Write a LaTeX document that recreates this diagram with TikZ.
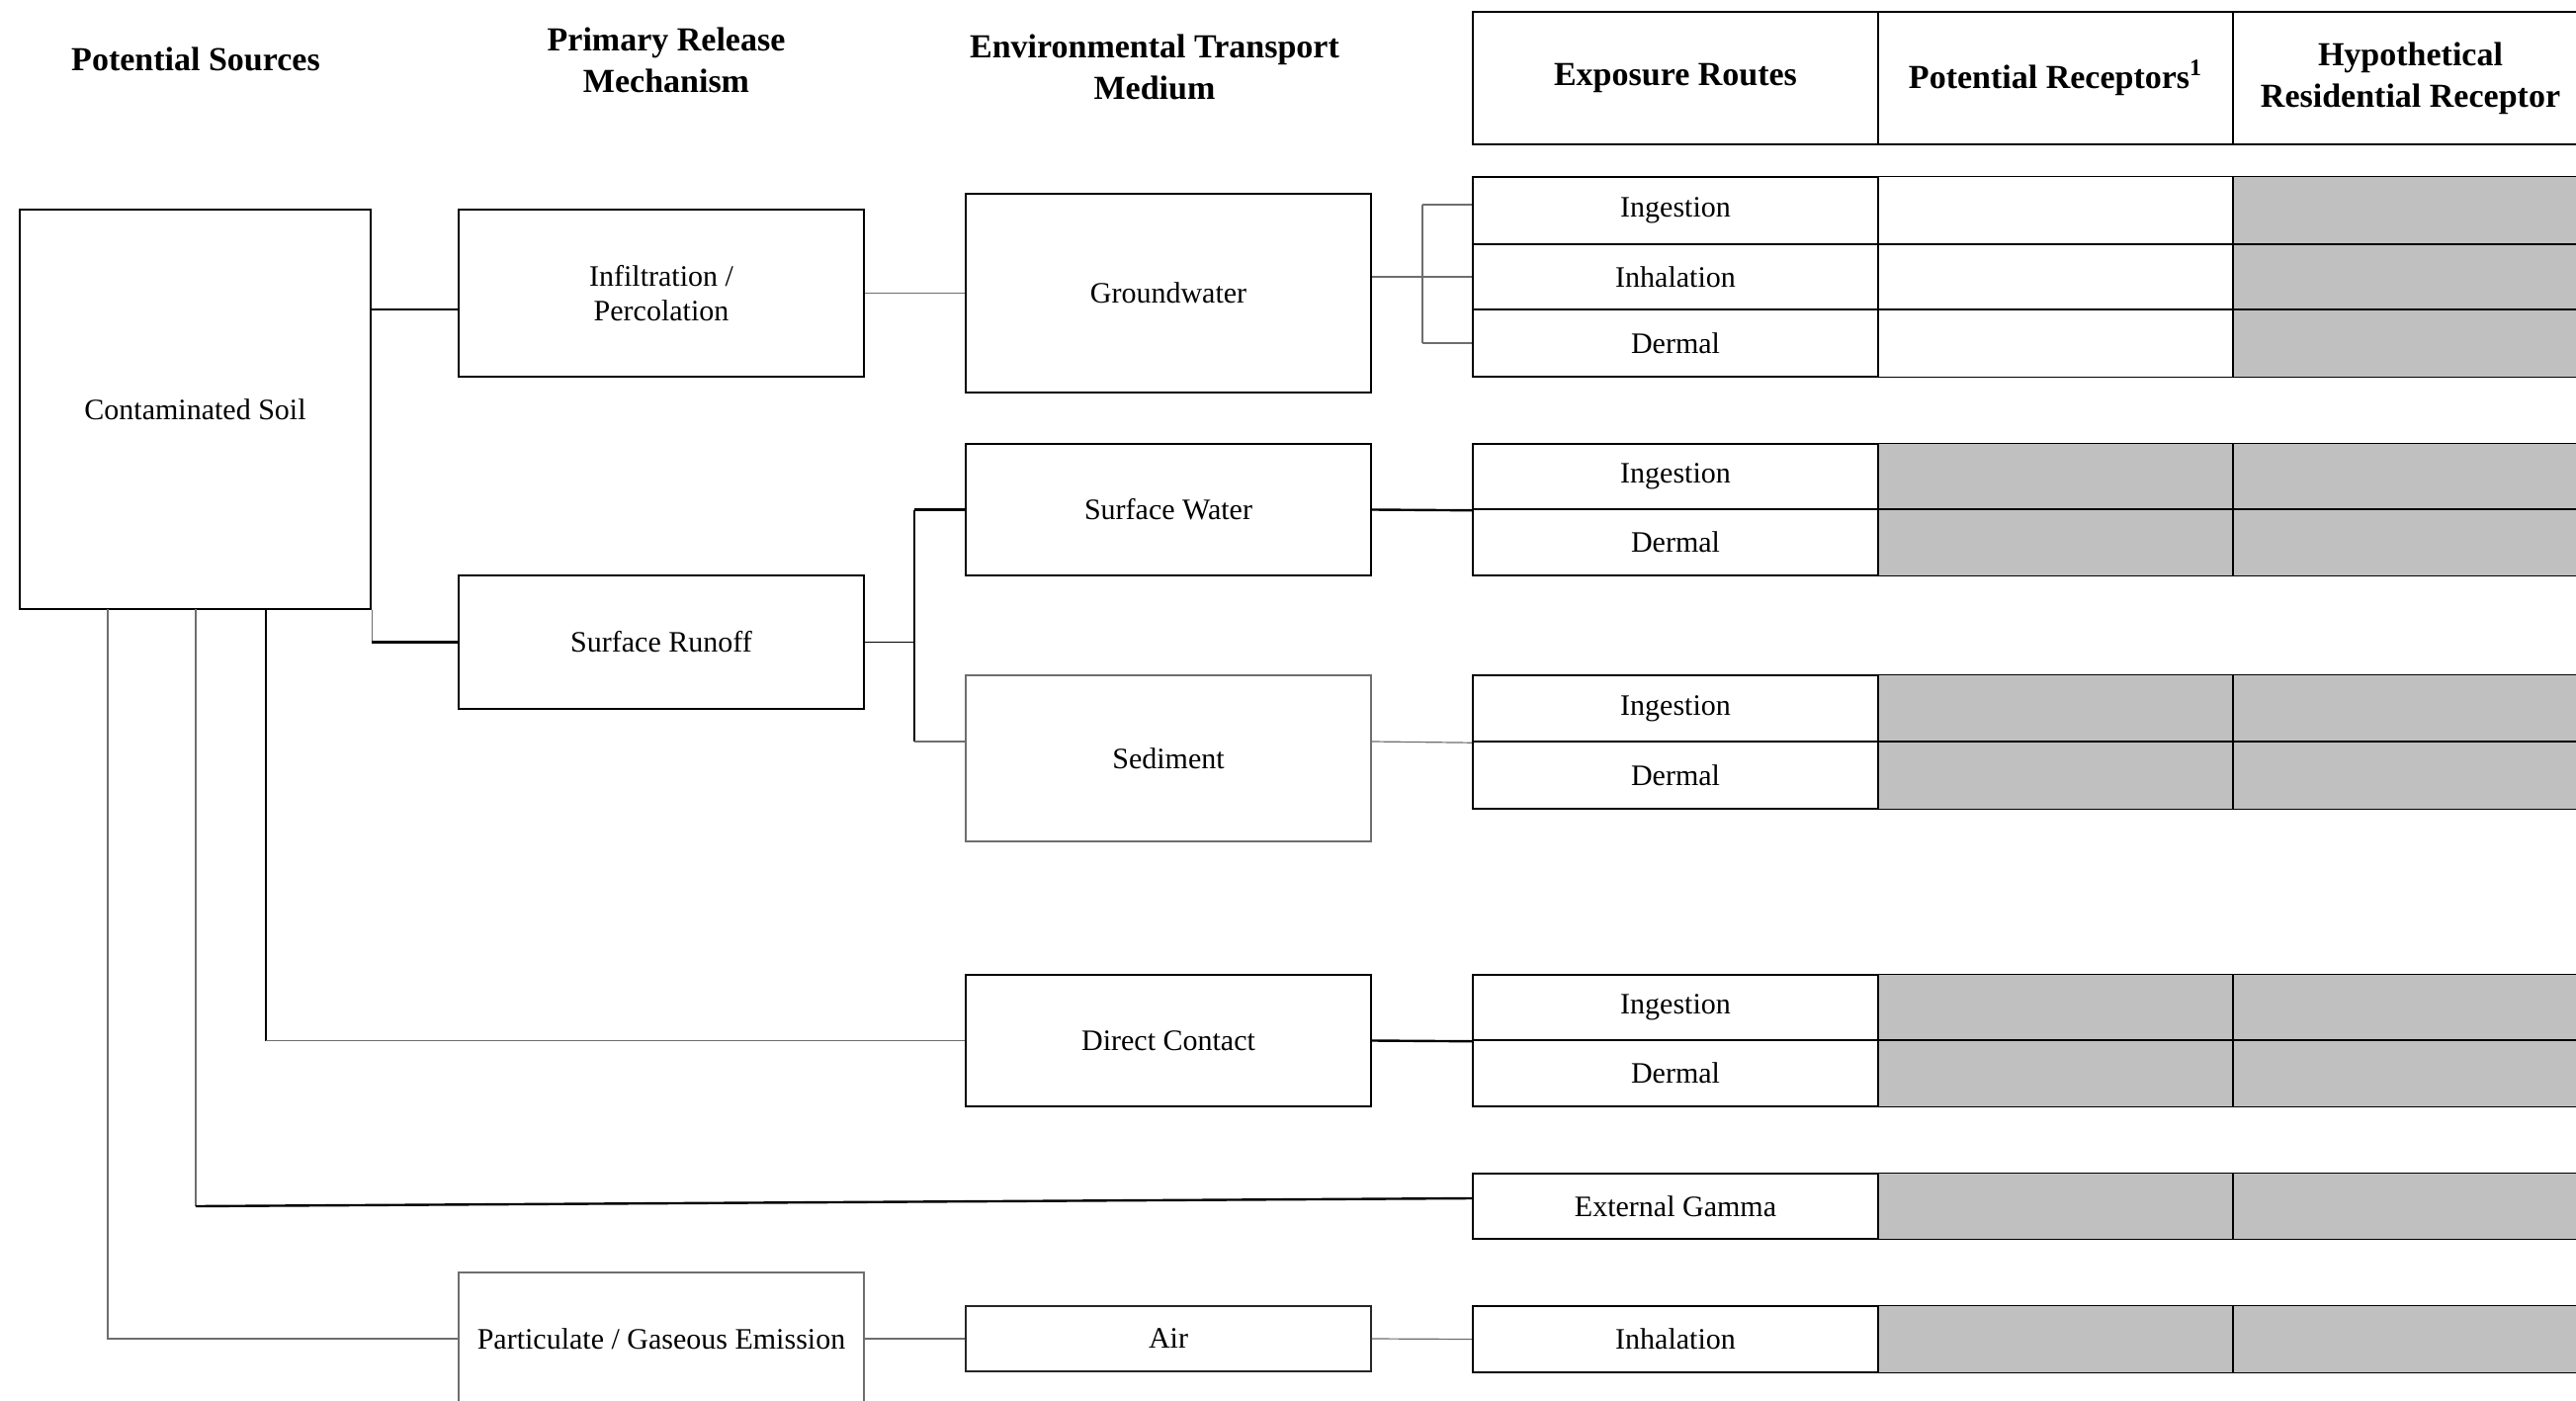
\documentclass[tikz,border=0pt]{standalone}
\usepackage{fontspec}
\setmainfont{Liberation Serif}
\definecolor{cellgray}{HTML}{C0C0C0}
\definecolor{linegray}{HTML}{6E6E6E}
\tikzset{
  rb/.style n args={4}{at={({(#1+#3)/2},{(#2+#4)/2})}, anchor=center,
     minimum width={(#3-#1)*0.5pt}, minimum height={(#4-#2)*0.5pt}},
  bx/.style={draw=black, line width=1.2pt, inner sep=0pt, fill=white, align=center, font=\fontsize{15}{17.5}\selectfont},
  lbx/.style={draw=linegray, line width=0.6pt, inner sep=0pt, fill=white, align=center, font=\fontsize{15}{17.5}\selectfont},
  hdbx/.style={draw=black, line width=1.2pt, inner sep=0pt, fill=white, align=center, font=\fontsize{17}{21}\selectfont\bfseries},
  hd/.style={font=\fontsize{17}{21}\selectfont\bfseries, align=center, inner sep=0pt},
  cellw/.style={fill=white, inner sep=0pt},
  cellg/.style={fill=cellgray, inner sep=0pt},
  cellline/.style={draw=black, line width=0.6pt},
  ck/.style={draw=black, line width=1.2pt},
  cg/.style={draw=linegray, line width=0.6pt},
  cb/.style={draw=black, line width=0.7pt},
}
\begin{document}
\begin{tikzpicture}[x=0.5pt,y=-0.5pt]
\useasboundingbox (0,0) rectangle (2606,1417);
\clip (0,0) rectangle (2606,1417);
\fill[white] (0,0) rectangle (2606,1417);

% column headers
\node[hd] (hsrc) at (198,60) {Potential Sources};
\node[hd] (hrel) at (674,61) {Primary Release\\Mechanism};
\node[hd] (hmed) at (1168,68) {Environmental Transport\\Medium};
\node[hdbx, rb={1490}{12}{1900}{146}] (hER) {Exposure Routes};
\node[hdbx, rb={1900}{12}{2259}{146}] (hPR) {Potential Receptors\textsuperscript{1}};
\node[hdbx, rb={2259}{12}{2618}{146}] (hHR) {Hypothetical\\Residential Receptor};

% receptor cells (fills)
\node[cellw, rb={1900}{179}{2259}{247}] (gwIp) {};
\node[cellw, rb={1900}{247}{2259}{313}] (gwHp) {};
\node[cellw, rb={1900}{313}{2259}{381}] (gwDp) {};
\node[cellg, rb={2259}{179}{2618}{247}] (gwIr) {};
\node[cellg, rb={2259}{247}{2618}{313}] (gwHr) {};
\node[cellg, rb={2259}{313}{2618}{381}] (gwDr) {};

\node[cellg, rb={1900}{449}{2259}{515}] (swIp) {};
\node[cellg, rb={1900}{515}{2259}{582}] (swDp) {};
\node[cellg, rb={2259}{449}{2618}{515}] (swIr) {};
\node[cellg, rb={2259}{515}{2618}{582}] (swDr) {};

\node[cellg, rb={1900}{683}{2259}{750}] (sdIp) {};
\node[cellg, rb={1900}{750}{2259}{818}] (sdDp) {};
\node[cellg, rb={2259}{683}{2618}{750}] (sdIr) {};
\node[cellg, rb={2259}{750}{2618}{818}] (sdDr) {};

\node[cellg, rb={1900}{986}{2259}{1052}] (dcIp) {};
\node[cellg, rb={1900}{1052}{2259}{1119}] (dcDp) {};
\node[cellg, rb={2259}{986}{2618}{1052}] (dcIr) {};
\node[cellg, rb={2259}{1052}{2618}{1119}] (dcDr) {};

\node[cellg, rb={1900}{1187}{2259}{1253}] (egp) {};
\node[cellg, rb={2259}{1187}{2618}{1253}] (egr) {};

\node[cellg, rb={1900}{1321}{2259}{1388}] (aip) {};
\node[cellg, rb={2259}{1321}{2618}{1388}] (air2) {};

% receptor cell borders
\foreach \c in {gwIp,gwHp,gwDp,gwIr,gwHr,gwDr,swIp,swDp,swIr,swDr,sdIp,sdDp,sdIr,sdDr,dcIp,dcDp,dcIr,dcDr,egp,egr,aip,air2}
  \draw[cellline] (\c.north west) rectangle (\c.south east);

% exposure route boxes
\node[bx, rb={1490}{179}{1900}{247}] (gwI) {Ingestion};
\node[bx, rb={1490}{247}{1900}{313}] (gwH) {Inhalation};
\node[bx, rb={1490}{313}{1900}{381}] (gwD) {Dermal};
\node[bx, rb={1490}{449}{1900}{515}] (swI) {Ingestion};
\node[bx, rb={1490}{515}{1900}{582}] (swD) {Dermal};
\node[bx, rb={1490}{683}{1900}{750}] (sdI) {Ingestion};
\node[bx, rb={1490}{750}{1900}{818}] (sdD) {Dermal};
\node[bx, rb={1490}{986}{1900}{1052}] (dcI) {Ingestion};
\node[bx, rb={1490}{1052}{1900}{1119}] (dcD) {Dermal};
\node[bx, rb={1490}{1187}{1900}{1253}] (eg) {External Gamma};
\node[bx, rb={1490}{1321}{1900}{1388}] (ai) {Inhalation};

% source, release and medium boxes
\node[bx, rb={20}{212}{375}{616}] (soil) {Contaminated Soil};
\node[bx, rb={464}{212}{874}{381}] (infil) {Infiltration /\\Percolation};
\node[bx, rb={464}{582}{874}{717}] (runoff) {Surface Runoff};
\node[lbx, rb={464}{1287}{874}{1421}] (pge) {Particulate / Gaseous Emission};
\node[bx, rb={977}{196}{1387}{397}] (gw) {Groundwater};
\node[bx, rb={977}{449}{1387}{582}] (sw) {Surface Water};
\node[lbx, rb={977}{683}{1387}{851}] (sed) {Sediment};
\node[bx, rb={977}{986}{1387}{1119}] (dc) {Direct Contact};
\node[lbx, draw=black!85, rb={977}{1321}{1387}{1387}] (air) {Air};

% connectors: groundwater path
\draw[ck] (soil.east |- 0,313) -- (infil.west |- 0,313);
\draw[cg] (infil.east) -- (gw.west);
\coordinate (gwb) at (1439,280);
\draw[cg] (gw.east |- gwb) -- (gwH.west |- gwb);
\draw[cg] (gwb |- 0,207) -- (gwb |- gwD.west);
\draw[cg] (gwb |- 0,207) -- (gwI.west |- 0,207);
\draw[cg] (gwb |- gwD.west) -- (gwD.west);

% surface runoff path
\draw[cg] (soil.south east) -- (soil.south east |- runoff.west);
\draw[ck] (soil.south east |- runoff.west) -- (runoff.west);
\coordinate (rbr) at (925,649);
\draw[cb] (runoff.east) -- (rbr |- runoff.east);
\draw[cb] (rbr |- sw.west) -- (rbr |- 0,750);
\draw[ck] (rbr |- sw.west) -- (sw.west);
\draw[cg] (rbr |- 0,750) -- (sed.west |- 0,750);
\draw[ck] (sw.east) -- (swI.south west);
\draw[cg] (sed.east |- 0,750) -- (sdI.south west);

% direct contact path
\coordinate (s3) at (269,616);
\draw[ck] (s3) -- (s3 |- dc.west);
\draw[cg] (s3 |- dc.west) -- (dc.west);
\draw[ck] (dc.east) -- (dcI.south west);

% external gamma path
\coordinate (s2) at (198,616);
\coordinate (s2b) at (198,1220);
\draw[cg] (s2) -- (s2b);
\draw[ck] (s2b) -- (eg.west |- 0,1212);

% air path
\coordinate (s1) at (109,616);
\draw[cg] (s1) -- (s1 |- pge.west) -- (pge.west);
\draw[cg] (pge.east) -- (air.west);
\draw[cg] (air.east) -- (ai.west);
\end{tikzpicture}
\end{document}
